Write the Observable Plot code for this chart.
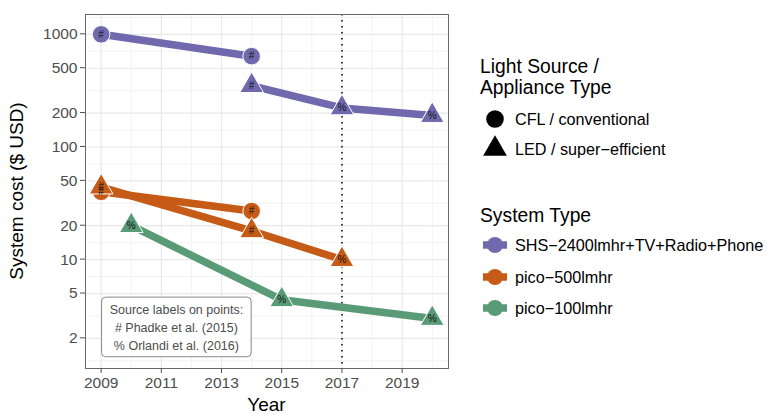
<!DOCTYPE html>
<html><head><meta charset="utf-8">
<script src="https://cdn.jsdelivr.net/npm/d3@7"></script>
<script src="https://cdn.jsdelivr.net/npm/@observablehq/plot@0.6"></script>
<style>
body{margin:0;background:#fff;}
#chart{width:767px;height:414px;position:relative;}
</style></head><body><div id="chart"></div>
<script>
const FONT = "'Liberation Sans', Arial, Helvetica, sans-serif";

// categories
const systemTypes = ["SHS−2400lmhr+TV+Radio+Phone", "pico−500lmhr", "pico−100lmhr"];
const systemColors = ["#7069ae", "#c55b17", "#5a9b77"];
const lightTypes = ["CFL / conventional", "LED / super−efficient"];
const lightSymbols = ["circle", "triangle"];

// series (year, cost in $ USD, source label)
const shsCflYears = [2009, 2014];        const shsCflCost = [1000, 640];     const shsCflSrc = ["#", "#"];
const shsLedYears = [2014, 2017, 2020];  const shsLedCost = [350, 222, 190]; const shsLedSrc = ["#", "%", "%"];
const p500CflYears = [2009, 2014];       const p500CflCost = [40, 27];       const p500CflSrc = ["#", "#"];
const p500LedYears = [2009, 2014, 2017]; const p500LedCost = [44, 18, 10];   const p500LedSrc = ["#", "#", "%"];
const p100LedYears = [2010, 2015, 2020]; const p100LedCost = [20, 4.4, 3];   const p100LedSrc = ["%", "%", "%"];

// ticks
const xTicks = [2009, 2011, 2013, 2015, 2017, 2019];
const xMinor = [2010, 2012, 2014, 2016, 2018, 2020];
const yTicks = [2, 5, 10, 20, 50, 100, 200, 500, 1000];
const referenceYear = [2017];

// annotation
const noteLines = ["Source labels on points:", "# Phadke et al. (2015)", "% Orlandi et al. (2016)"];
const noteYear = 2011.5;
const noteCosts = [3.6, 2.48, 1.71];
const noteBoxYears = [2009.03, 2014.0];
const noteBoxCosts = [1.36, 4.6];

// build table
const rows = [];
function add(sys, light, years, costs, src) {
  years.forEach((y, i) => rows.push({system: systemTypes[sys], light: lightTypes[light], year: y, cost: costs[i], src: src[i]}));
}
add(0, 0, shsCflYears, shsCflCost, shsCflSrc);
add(0, 1, shsLedYears, shsLedCost, shsLedSrc);
add(1, 0, p500CflYears, p500CflCost, p500CflSrc);
add(1, 1, p500LedYears, p500LedCost, p500LedSrc);
add(2, 1, p100LedYears, p100LedCost, p100LedSrc);

// log-midpoint minor breaks (ggplot style)
const L = Math.log10;
const ext = [Math.pow(10, L(yTicks[0]) - (L(yTicks[1]) - L(yTicks[0]))), ...yTicks,
  Math.pow(10, L(yTicks[yTicks.length-1]) + (L(yTicks[yTicks.length-1]) - L(yTicks[yTicks.length-2])))];
const yMinor = d3.pairs(ext).map(([a, b]) => Math.sqrt(a * b));

const noteRows = noteLines.map((t, i) => ({text: t, year: noteYear, cost: noteCosts[i]}));
const box = [{x1: noteBoxYears[0], x2: noteBoxYears[1], y1: noteBoxCosts[0], y2: noteBoxCosts[1]}];

const plot = Plot.plot({
  width: 767, height: 414,
  marginLeft: 85, marginRight: 319, marginTop: 14, marginBottom: 46,
  style: {fontFamily: FONT, background: "white", overflow: "visible"},
  x: {domain: [2008.48, 2020.54], label: null},
  y: {type: "log", domain: [1.08, 1500], label: null, axis: null},
  color: {domain: systemTypes, range: systemColors},
  symbol: {domain: lightTypes, range: lightSymbols},
  marks: [
    Plot.gridX(xMinor, {stroke: "#eeeeee", strokeOpacity: 1, strokeWidth: 0.7}),
    Plot.gridY(yMinor, {stroke: "#eeeeee", strokeOpacity: 1, strokeWidth: 0.7}),
    Plot.gridX(xTicks, {stroke: "#e8e8e8", strokeOpacity: 1, strokeWidth: 1.2}),
    Plot.gridY(yTicks, {stroke: "#e8e8e8", strokeOpacity: 1, strokeWidth: 1.2}),
    Plot.ruleX(referenceYear, {stroke: "#111", strokeWidth: 1.6, strokeDasharray: "1.6,4.4"}),
    Plot.line(rows, {x: "year", y: "cost", z: d => d.system + d.light, stroke: "system", strokeWidth: 7.5, strokeLinecap: "butt", strokeLinejoin: "round"}),
    Plot.dot(rows, {x: "year", y: "cost", fill: "system", symbol: "light", r: 8.8, stroke: "white", strokeWidth: 1}),
    Plot.text(rows, {x: "year", y: "cost", text: "src", fontSize: 10, fill: "#111"}),
    Plot.rect(box, {x1: "x1", x2: "x2", y1: "y1", y2: "y2", fill: "white", stroke: "#8a8a8a", strokeWidth: 1, rx: 4}),
    Plot.text(noteRows, {x: "year", y: "cost", text: "text", fontSize: 12.5, fill: "#4d4d4d"}),
    Plot.frame({stroke: "#6a6a6a", strokeWidth: 1}),
    Plot.axisX({ticks: xTicks, tickFormat: d => String(d), tickSize: 5, tickPadding: 3, fontSize: 15.5, color: "#4d4d4d", label: null}),
    Plot.text(yTicks, {y: d => d, frameAnchor: "left", dx: -8, textAnchor: "end", text: d => String(d), fontSize: 15.5, fill: "#4d4d4d"})
  ]
});

document.getElementById("chart").appendChild(plot);

// axis titles and legend
const svg = d3.select(plot);
const g = svg.append("g").attr("font-family", FONT).attr("fill", "#000").attr("text-anchor", "start");
g.append("text").attr("x", 266.5).attr("y", 411).attr("text-anchor", "middle").attr("font-size", 19).text("Year");
g.append("text").attr("transform", "translate(23,191) rotate(-90)").attr("text-anchor", "middle").attr("font-size", 19).text("System cost ($ USD)");

// y tick marks (short lines left of the panel), positioned with Plot's y scale
const yScale = plot.scale("y");
g.append("g").selectAll("line").data(yTicks).join("line")
  .attr("x1", 80).attr("x2", 85)
  .attr("y1", d => yScale.apply(d)).attr("y2", d => yScale.apply(d))
  .attr("stroke", "#4d4d4d");

const lg = g.append("g");
lg.append("text").attr("x", 480).attr("y", 73).attr("font-size", 19.3).text("Light Source /");
lg.append("text").attr("x", 480).attr("y", 94).attr("font-size", 19.3).text("Appliance Type");
const symY = [119, 149];
lightTypes.forEach((t, i) => {
  const sym = i === 0 ? d3.symbolCircle : d3.symbolTriangle;
  lg.append("path").attr("d", d3.symbol(sym, Math.PI * 8.8 * 8.8)()).attr("transform", `translate(495,${symY[i]})`).attr("fill", "#000");
  lg.append("text").attr("x", 515).attr("y", symY[i] + 6).attr("font-size", 16.2).text(t);
});
lg.append("text").attr("x", 480).attr("y", 222).attr("font-size", 19.3).text("System Type");
const sysY = [245, 277, 308];
systemTypes.forEach((t, i) => {
  lg.append("line").attr("x1", 483).attr("x2", 507).attr("y1", sysY[i]).attr("y2", sysY[i]).attr("stroke", systemColors[i]).attr("stroke-width", 7.5);
  lg.append("circle").attr("cx", 495).attr("cy", sysY[i]).attr("r", 8).attr("fill", systemColors[i]);
  lg.append("text").attr("x", 515).attr("y", sysY[i] + 6).attr("font-size", 16.2).text(t);
});
</script></body></html>
